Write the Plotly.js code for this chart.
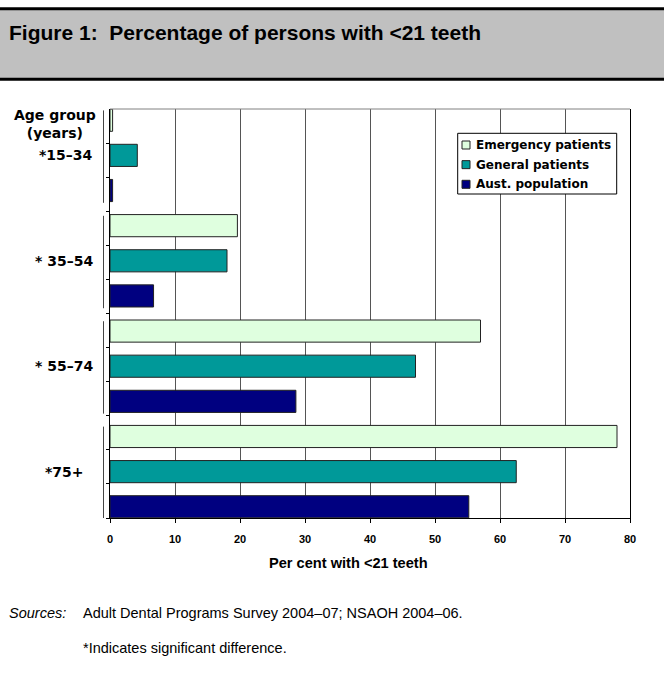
<!DOCTYPE html>
<html>
<head>
<meta charset="utf-8">
<script src="https://cdn.plot.ly/plotly-3.0.1.min.js"></script>
<style>html,body{margin:0;padding:0;background:#fff;}</style>
</head>
<body>
<div id="chart" style="width:664px;height:675px;"></div>
<script>
// ---- data ----
const ageGroups = ['*15\u201334', '* 35\u201354', '* 55\u201374', '*75+'];
const seriesNames = ['Emergency patients', 'General patients', 'Aust. population'];
const emergency = [0.4, 19.6, 57.0, 78.0];
const general = [4.2, 18.0, 47.0, 62.5];
const aust = [0.4, 6.7, 28.6, 55.2];
const xTicks = [0, 10, 20, 30, 40, 50, 60, 70, 80];
const titleText = 'Figure 1:\u00a0 Percentage of persons with &lt;21 teeth';
const xTitle = 'Per cent with &lt;21 teeth';
const yHeader = 'Age group<br>(years)';
const sourceLabel = 'Sources:';
const sourceText = 'Adult Dental Programs Survey 2004\u201307; NSAOH 2004\u201306.';
const noteText = '*Indicates significant difference.';

// ---- styling / layout helpers ----
const colors = ['#DFFFDF', '#009999', '#000080'];
const seriesData = [emergency, general, aust];
const L = 110, R = 630, T = 109, B = 518;
const px = x => (x - L) / (R - L);
const py = y => (B - y) / (B - T);
const ARIAL = 'Liberation Sans, Arial, Helvetica, sans-serif';
const DEJA = 'DejaVu Sans, Verdana, sans-serif';
const nSlots = ageGroups.length * seriesNames.length;
const yLo = -0.32, yHi = nSlots - 1 + 0.32;

const traces = seriesNames.map((name, s) => ({
  type: 'bar',
  orientation: 'h',
  name: name,
  x: seriesData[s],
  y: ageGroups.map((g, i) => i * seriesNames.length + s),
  width: 0.63,
  marker: { color: colors[s], line: { color: '#222', width: 1 } },
  showlegend: false,
  hoverinfo: 'x'
}));

const shapes = [];
const annotations = [];

// title band
shapes.push({ type: 'rect', xref: 'paper', yref: 'paper', x0: px(0), x1: px(664), y0: py(79.2), y1: py(8.7), fillcolor: '#C0C0C0', line: { width: 0 }, layer: 'below' });
shapes.push({ type: 'line', xref: 'paper', yref: 'paper', x0: px(0), x1: px(664), y0: py(8.7), y1: py(8.7), line: { color: '#000', width: 3 } });
shapes.push({ type: 'line', xref: 'paper', yref: 'paper', x0: px(0), x1: px(664), y0: py(79.2), y1: py(79.2), line: { color: '#000', width: 3 } });
annotations.push({ xref: 'paper', yref: 'paper', x: px(7), y: py(32.8), xanchor: 'left', yanchor: 'middle', showarrow: false, text: titleText, font: { family: ARIAL, size: 21, weight: 'bold', color: '#000' } });

// plot top border
shapes.push({ type: 'line', xref: 'paper', yref: 'paper', x0: 0, x1: 1, y0: 1, y1: 1, line: { color: '#808080', width: 1 } });

// group brackets and labels
ageGroups.forEach((g, i) => {
  const base = i * seriesNames.length;
  shapes.push({ type: 'line', xref: 'paper', yref: 'y', x0: px(103.5), x1: px(103.5), y0: base - 0.28, y1: base + 2.35, line: { color: '#444', width: 1 } });
  annotations.push({ xref: 'paper', yref: 'y', x: px(i === ageGroups.length - 1 ? 86 : 95), y: base + 1, xanchor: 'right', yanchor: 'middle', showarrow: false, text: g, font: { family: DEJA, size: 14, weight: 'bold', color: '#000' } });
});
annotations.push({ xref: 'paper', yref: 'paper', x: px(54.5), y: py(124), xanchor: 'center', yanchor: 'middle', showarrow: false, align: 'center', text: yHeader, font: { family: DEJA, size: 14, weight: 'bold', color: '#000' } });

// legend
shapes.push({ type: 'rect', xref: 'paper', yref: 'paper', x0: px(457.7), x1: px(616.7), y0: py(194), y1: py(133.3), fillcolor: '#fff', line: { color: '#000', width: 1 } });
seriesNames.forEach((name, s) => {
  const cy = 145 + s * 19.65;
  shapes.push({ type: 'rect', xref: 'paper', yref: 'paper', x0: px(462), x1: px(470), y0: py(cy + 4), y1: py(cy - 4), fillcolor: colors[s], line: { color: '#222', width: 1 } });
  annotations.push({ xref: 'paper', yref: 'paper', x: px(474), y: py(cy), xanchor: 'left', yanchor: 'middle', showarrow: false, text: name, font: { family: DEJA, size: 12, weight: 'bold', color: '#000' } });
});

// x title
annotations.push({ xref: 'paper', yref: 'paper', x: px(348.5), y: py(563.2), xanchor: 'center', yanchor: 'middle', showarrow: false, text: xTitle, font: { family: ARIAL, size: 14.6, weight: 'bold', color: '#000' } });

// footer
annotations.push({ xref: 'paper', yref: 'paper', x: px(7), y: py(613.3), xanchor: 'left', yanchor: 'middle', showarrow: false, text: sourceLabel, font: { family: ARIAL, size: 14.5, style: 'italic', color: '#000' } });
annotations.push({ xref: 'paper', yref: 'paper', x: px(81), y: py(613.3), xanchor: 'left', yanchor: 'middle', showarrow: false, text: sourceText, font: { family: ARIAL, size: 14.5, color: '#000' } });
annotations.push({ xref: 'paper', yref: 'paper', x: px(81), y: py(647.7), xanchor: 'left', yanchor: 'middle', showarrow: false, text: noteText, font: { family: ARIAL, size: 14.5, color: '#000' } });

const yTickVals = [];
for (let k = 1; k <= nSlots; k++) yTickVals.push(yLo + k * (yHi - yLo) / nSlots);

const layout = {
  width: 664, height: 675,
  margin: { l: L, r: 664 - R, t: T, b: 675 - B, pad: 0 },
  paper_bgcolor: '#fff', plot_bgcolor: '#fff',
  barmode: 'overlay',
  showlegend: false,
  xaxis: {
    range: [0, 80], tickvals: xTicks, ticktext: xTicks.map(String),
    showgrid: true, gridcolor: '#555', gridwidth: 1, zeroline: false,
    showline: true, linecolor: '#000', linewidth: 1,
    ticks: 'outside', ticklen: 4, tickcolor: '#000', ticklabelstandoff: 7,
    tickfont: { family: ARIAL, size: 11, weight: 'bold', color: '#000' },
    fixedrange: true
  },
  yaxis: {
    range: [yHi, yLo], tickvals: yTickVals, showticklabels: false,
    ticks: 'outside', ticklen: 3, tickcolor: '#000',
    showgrid: false, zeroline: false,
    showline: true, linecolor: '#000', linewidth: 1, mirror: true,
    fixedrange: true
  },
  shapes: shapes,
  annotations: annotations
};

Plotly.newPlot('chart', traces, layout, { displayModeBar: false, staticPlot: true });
</script>
</body>
</html>
